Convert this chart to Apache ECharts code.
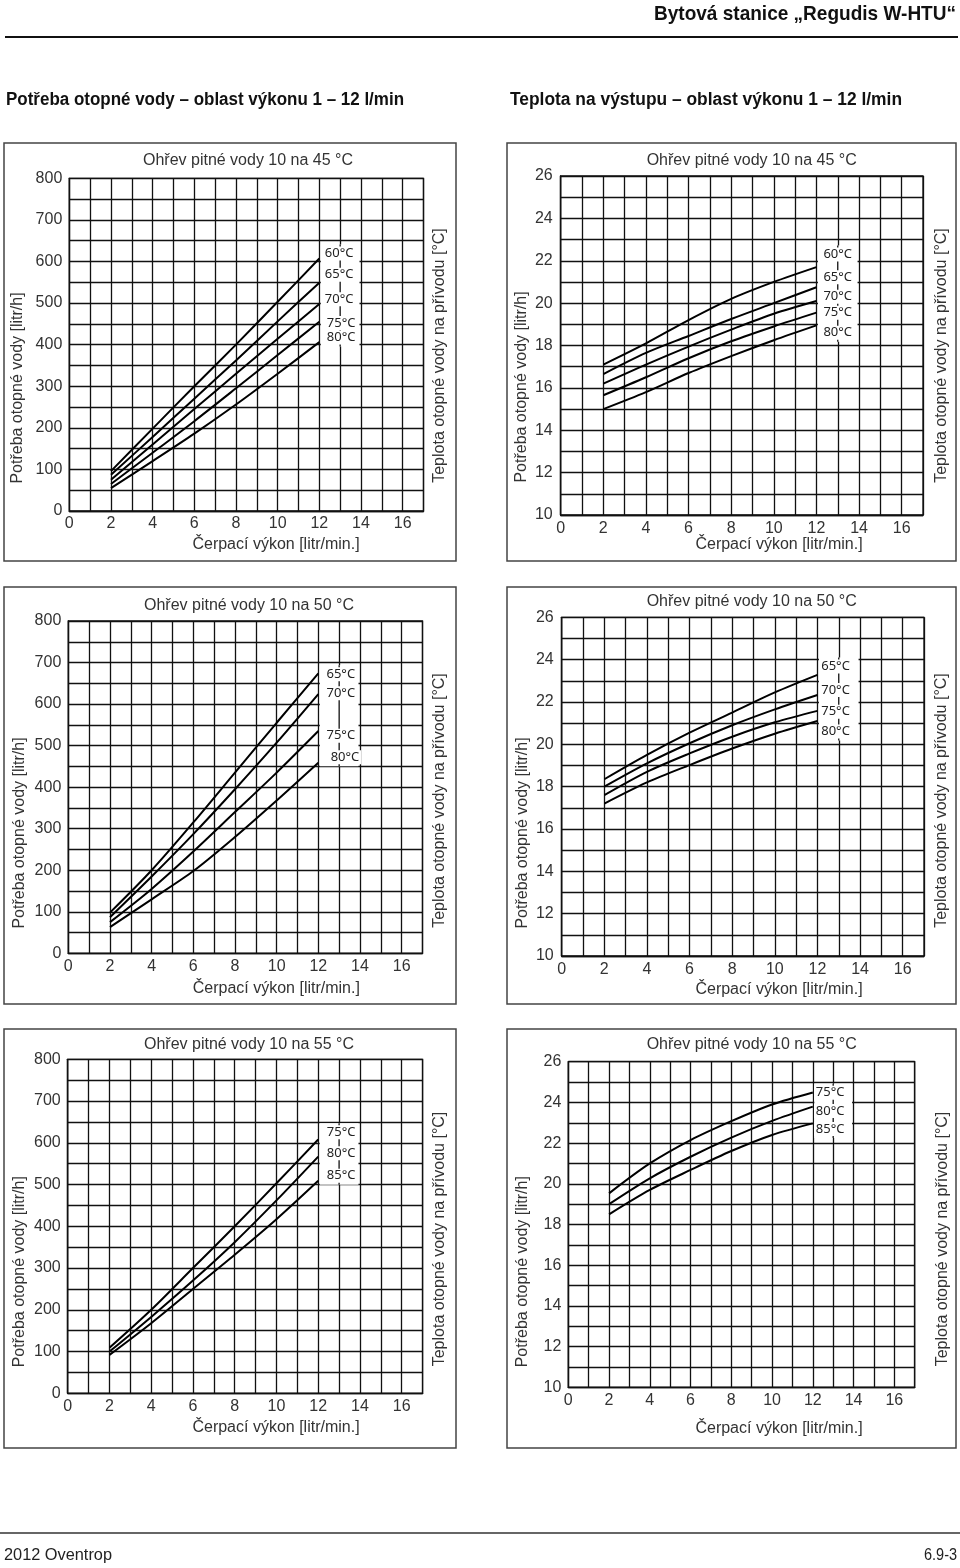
<!DOCTYPE html>
<html>
<head>
<meta charset="utf-8">
<script src="https://cdn.jsdelivr.net/npm/echarts@6/dist/echarts.min.js"></script>
<style>
html,body{margin:0;padding:0;background:#fff;}
#c{width:960px;height:1568px;}
</style>
</head>
<body>
<div id="c"></div>
<script>
// ---------- data ----------
const xs = [2, 4, 6, 8, 10, 12];                       // pump flow [litr/min.]
const xTickLabels = [0, 2, 4, 6, 8, 10, 12, 14, 16];
const demandTickLabels = [0, 100, 200, 300, 400, 500, 600, 700, 800];
const tempTickLabels = [10, 12, 14, 16, 18, 20, 22, 24, 26];

// 10 -> 45 °C
const labels45 = ['60°C', '65°C', '70°C', '75°C', '80°C'];
const d45_60 = [96, 198, 300, 400, 503, 607];
const d45_65 = [87, 178, 270, 362, 456, 549];
const d45_70 = [75, 160, 245, 330, 414, 498];
const d45_75 = [65, 140, 216, 295, 375, 455];
const d45_80 = [55, 120, 186, 256, 330, 406];
const t45_60 = [17.1, 18.1, 19.2, 20.2, 21.0, 21.7];
const t45_65 = [16.65, 17.65, 18.45, 19.25, 20.0, 20.75];
const t45_70 = [16.2, 17.1, 17.95, 18.75, 19.5, 20.1];
const t45_75 = [15.65, 16.5, 17.4, 18.2, 18.9, 19.55];
const t45_80 = [15.0, 15.8, 16.7, 17.5, 18.25, 18.95];
const lab45dY = [619, 568, 509, 452, 417];
const lab45tY = [22.3, 21.22, 20.3, 19.55, 18.6];

// 10 -> 50 °C
const labels50 = ['65°C', '70°C', '75°C', '80°C'];
const d50_65 = [98, 200, 315, 435, 555, 674];
const d50_70 = [87, 185, 287, 395, 507, 624];
const d50_75 = [75, 155, 245, 340, 435, 535];
const d50_80 = [63, 130, 198, 280, 368, 459];
const t50_65 = [18.35, 19.5, 20.55, 21.5, 22.45, 23.28];
const t50_70 = [18.0, 19.1, 20.05, 20.9, 21.65, 22.33];
const t50_75 = [17.6, 18.7, 19.57, 20.36, 21.04, 21.58];
const t50_80 = [17.2, 18.2, 19.02, 19.8, 20.5, 21.1];
const lab50dY = [672, 626, 524, 472];
const lab50tY = [23.67, 22.56, 21.54, 20.6];

// 10 -> 55 °C
const labels55 = ['75°C', '80°C', '85°C'];
const d55_75 = [109, 200, 300, 400, 503, 608];
const d55_80 = [100, 183, 270, 362, 462, 567];
const d55_85 = [92, 168, 250, 332, 417, 509];
const t55_75 = [19.53, 21.0, 22.15, 23.08, 23.9, 24.49];
const t55_80 = [19.0, 20.27, 21.33, 22.27, 23.09, 23.79];
const t55_85 = [18.5, 19.7, 20.68, 21.61, 22.4, 22.97];
const lab55dY = [625, 575, 521];
const lab55tY = [24.48, 23.58, 22.69];

const panelTitles = ['Ohřev pitné vody 10 na 45 °C', 'Ohřev pitné vody 10 na 50 °C', 'Ohřev pitné vody 10 na 55 °C'];
const xName = 'Čerpací výkon [litr/min.]';
const yNameLeft = 'Potřeba otopné vody [litr/h]';
const yNameRight = 'Teplota otopné vody na přívodu [°C]';
const headerTitle = 'Bytová stanice „Regudis W-HTU“';
const subLeft = 'Potřeba otopné vody – oblast výkonu 1 – 12 l/min';
const subRight = 'Teplota na výstupu – oblast výkonu 1 – 12 l/min';
const footLeft = '2012 Oventrop';
const footRight = '6.9-3';

// ---------- layout ----------
const FONT = '"Liberation Sans", Arial, sans-serif';
const LABFONT = '"Noto Sans", "DejaVu Sans", sans-serif';
const INK = '#111';
const TXT = '#333';

const panels = [
  {kind: 'd', title: panelTitles[0], series: [d45_60, d45_65, d45_70, d45_75, d45_80], labels: labels45, labY: lab45dY, labX: [12.95, 12.95, 12.95, 13.05, 13.05],
   grid: {left: 69.3, top: 178.3, width: 354.2, height: 332.7}, box: [4, 143, 452, 418], tpos: [248, 161], xn: [276, 545], yn: [18, 388], rn: [440, 355.5], xm: 5, ym: 7},
  {kind: 't', title: panelTitles[0], series: [t45_60, t45_65, t45_70, t45_75, t45_80], labels: labels45, labY: lab45tY, labX: [13.0, 13.0, 13.0, 13.0, 13.0],
   grid: {left: 560.7, top: 176, width: 362.3, height: 339}, box: [507, 143, 449, 418], tpos: [751.7, 160.7], xn: [779, 545], yn: [521.7, 387], rn: [941.7, 355.5], xm: 6, ym: 8},
  {kind: 'd', title: panelTitles[1], series: [d50_65, d50_70, d50_75, d50_80], labels: labels50, labY: lab50dY, labX: [13.08, 13.08, 13.08, 13.28],
   grid: {left: 68.3, top: 621, width: 354.2, height: 332.3}, box: [4, 587, 452, 417], tpos: [249, 605.7], xn: [276.3, 988.3], yn: [20, 833], rn: [440, 800.5], xm: 5, ym: 7},
  {kind: 't', title: panelTitles[1], series: [t50_65, t50_70, t50_75, t50_80], labels: labels50, labY: lab50tY, labX: [12.85, 12.85, 12.85, 12.85],
   grid: {left: 561.7, top: 617.3, width: 362.3, height: 338.7}, box: [507, 587, 449, 417], tpos: [751.7, 601.7], xn: [779, 990], yn: [523, 833], rn: [941.7, 800.5], xm: 6, ym: 8},
  {kind: 'd', title: panelTitles[2], series: [d55_75, d55_80, d55_85], labels: labels55, labY: lab55dY, labX: [13.1, 13.1, 13.1],
   grid: {left: 67.7, top: 1059.3, width: 354.9, height: 334}, box: [4, 1029, 452, 419], tpos: [249, 1044.3], xn: [276, 1428], yn: [20, 1271.7], rn: [440, 1239], xm: 5, ym: 7},
  {kind: 't', title: panelTitles[2], series: [t55_75, t55_80, t55_85], labels: labels55, labY: lab55tY, labX: [12.85, 12.85, 12.85],
   grid: {left: 568.3, top: 1061.7, width: 346.4, height: 325.6}, box: [507, 1029, 449, 419], tpos: [751.7, 1044.3], xn: [779, 1428.3], yn: [523, 1271.7], rn: [943, 1239], xm: 5, ym: 7}
];

function fitScale(text, font, target) {
  const ctx = document.createElement('canvas').getContext('2d');
  ctx.font = font;
  const w = ctx.measureText(text).width;
  return w > 0 ? target / w : 1;
}

const grids = [], xAxes = [], yAxes = [], series = [], graphics = [];

panels.forEach((p, i) => {
  grids.push(Object.assign({show: true, borderColor: INK, borderWidth: 1.3, backgroundColor: 'transparent'}, p.grid));
  xAxes.push({
    type: 'value', gridIndex: i, min: 0, max: 17, interval: 1,
    axisLine: {show: true, onZero: false, lineStyle: {color: INK, width: 1.3}},
    axisTick: {show: false},
    splitLine: {show: true, lineStyle: {color: INK, width: 1.3}},
    axisLabel: {margin: p.xm, color: TXT, fontSize: 16, fontFamily: FONT,
      formatter: v => xTickLabels.includes(v) ? String(v) : ''}
  });
  const isD = p.kind === 'd';
  yAxes.push({
    type: 'value', gridIndex: i, min: isD ? 0 : 10, max: isD ? 800 : 26, interval: isD ? 50 : 1,
    axisLine: {show: true, onZero: false, lineStyle: {color: INK, width: 1.3}},
    axisTick: {show: false},
    splitLine: {show: true, lineStyle: {color: INK, width: 1.3}},
    axisLabel: {margin: p.ym, color: TXT, fontSize: 16, fontFamily: FONT,
      formatter: v => (isD ? demandTickLabels : tempTickLabels).includes(v) ? String(v) : ''}
  });
  p.series.forEach((vals, k) => {
    series.push({
      type: 'line', xAxisIndex: i, yAxisIndex: i, name: p.labels[k],
      data: xs.map((x, j) => [x, vals[j]]),
      symbol: 'none', smooth: 0.3, silent: true, z: 3,
      lineStyle: {color: '#000', width: 2}
    });
  });
  const labY = p.labY, labX = p.labX, labels = p.labels;
  series.push({
    type: 'custom', xAxisIndex: i, yAxisIndex: i, silent: true, z: 5,
    data: labY.map((y, k) => [labX[k], y]),
    renderItem: (params, api) => {
      const pt = api.coord([api.value(0), api.value(1)]);
      const children = [];
      if (params.dataIndex === 0) {
        const ys = labY.map(v => api.coord([13, v])[1]);
        const top = Math.min(...ys) - 9, bot = Math.max(...ys) + 9;
        const xl = api.coord([12, labY[0]])[0] + 1.5;
        const xr = api.coord([14, labY[0]])[0] - 1.5;
        const x13 = api.coord([13, labY[0]])[0];
        children.push({type: 'rect', shape: {x: xl, y: top, width: xr - xl, height: bot - top}, style: {fill: '#fff'}});
        children.push({type: 'line', shape: {x1: x13, y1: top, x2: x13, y2: bot}, style: {stroke: INK, lineWidth: 1.3}});
      }
      children.push({type: 'rect', shape: {x: pt[0] - 16, y: pt[1] - 7, width: 32, height: 14}, style: {fill: '#fff'}});
      children.push({type: 'text', x: pt[0], y: pt[1],
        style: {text: labels[params.dataIndex], fill: '#222', font: '13px ' + LABFONT, align: 'center', verticalAlign: 'middle'}});
      return {type: 'group', children};
    }
  });
  // panel frame
  graphics.push({type: 'rect', shape: {x: p.box[0], y: p.box[1], width: p.box[2], height: p.box[3]},
    style: {fill: 'none', stroke: '#444', lineWidth: 1.5}, silent: true});
  // panel title
  graphics.push({type: 'text', x: p.tpos[0], y: p.tpos[1],
    style: {text: p.title, font: '16px ' + FONT, fill: TXT, align: 'center', verticalAlign: 'middle'}});
  // x axis name
  graphics.push({type: 'text', x: p.xn[0], y: p.xn[1],
    style: {text: xName, font: '16px ' + FONT, fill: TXT, align: 'center', verticalAlign: 'middle'}});
  // left y name
  graphics.push({type: 'text', x: p.yn[0], y: p.yn[1], rotation: Math.PI / 2,
    style: {text: yNameLeft, font: '16px ' + FONT, fill: TXT, align: 'center', verticalAlign: 'middle'}});
  // right y name
  graphics.push({type: 'text', x: p.rn[0], y: p.rn[1], rotation: Math.PI / 2,
    style: {text: yNameRight, font: '16px ' + FONT, fill: TXT, align: 'center', verticalAlign: 'middle'}});
});

// page header / footer
const HF_BOLD = 'bold 21px "Liberation Sans Narrow", "Liberation Sans", Arial, sans-serif';
const SUB_BOLD = 'bold 18px "Liberation Sans Narrow", "Liberation Sans", Arial, sans-serif';
const FOOT = '16px "Liberation Sans Narrow", "Liberation Sans", Arial, sans-serif';
graphics.push({type: 'text', x: 956, y: 14, scaleX: fitScale(headerTitle, HF_BOLD, 302),
  style: {text: headerTitle, font: HF_BOLD, fill: '#111', align: 'right', verticalAlign: 'middle'}});
graphics.push({type: 'line', shape: {x1: 5, y1: 37, x2: 958, y2: 37}, style: {stroke: '#111', lineWidth: 2}, silent: true});
graphics.push({type: 'text', x: 6, y: 100, scaleX: fitScale(subLeft, SUB_BOLD, 398),
  style: {text: subLeft, font: SUB_BOLD, fill: '#111', align: 'left', verticalAlign: 'middle'}});
graphics.push({type: 'text', x: 510, y: 100, scaleX: fitScale(subRight, SUB_BOLD, 392),
  style: {text: subRight, font: SUB_BOLD, fill: '#111', align: 'left', verticalAlign: 'middle'}});
graphics.push({type: 'line', shape: {x1: 0, y1: 1533, x2: 960, y2: 1533}, style: {stroke: '#666', lineWidth: 2}, silent: true});
graphics.push({type: 'text', x: 4, y: 1556, scaleX: fitScale(footLeft, FOOT, 108),
  style: {text: footLeft, font: FOOT, fill: '#222', align: 'left', verticalAlign: 'middle'}});
graphics.push({type: 'text', x: 957, y: 1556, scaleX: fitScale(footRight, FOOT, 33),
  style: {text: footRight, font: FOOT, fill: '#222', align: 'right', verticalAlign: 'middle'}});

const chart = echarts.init(document.getElementById('c'), null, {renderer: 'canvas'});
chart.setOption({
  animation: false,
  backgroundColor: '#fff',
  grid: grids,
  xAxis: xAxes,
  yAxis: yAxes,
  series: series,
  graphic: {elements: graphics}
});
</script>
</body>
</html>
